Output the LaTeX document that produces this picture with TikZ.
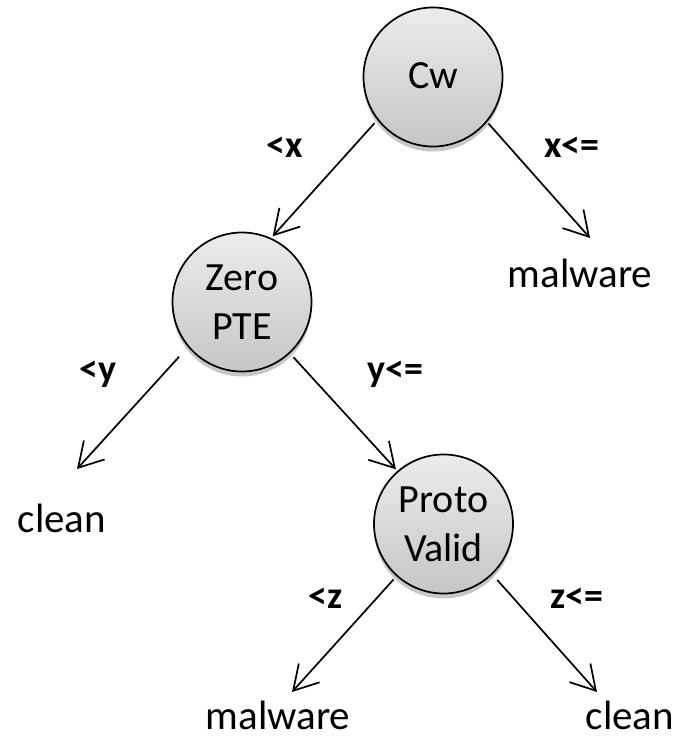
\documentclass[tikz,border=0pt]{standalone}
\usepackage{fontspec}
\setmainfont{Carlito}
\usetikzlibrary{arrows.meta,shadows}
\begin{document}
\begin{tikzpicture}[x=1pt,y=-1pt,
  test/.style={circle, draw=black, line width=1.7pt, minimum size=139pt, inner sep=0pt, outer sep=3pt,
    top color=gray!15, bottom color=gray!45, align=center,
    drop shadow={shadow xshift=0pt, shadow yshift=-5pt, fill=black, opacity=0.22},
    font=\fontsize{40}{49}\selectfont},
  leaf/.style={inner sep=0pt, anchor=base, font=\fontsize{41}{49}\selectfont},
  cond/.style={inner sep=0pt, anchor=base, font=\fontsize{38}{46}\selectfont\bfseries},
  arr/.style={line width=1.7pt, -{Straight Barb[length=24pt, width=28pt, line width=1.7pt]}}]
\useasboundingbox (0,0) rectangle (681,739);

\node[test] (cw) at (433,77) {\raisebox{3pt}{Cw}};
\node[test] (zero) at (242,302) {\fontsize{40}{50}\selectfont Zero\\PTE};
\node[test] (proto) at (443.5,524) {\fontsize{40}{41}\selectfont Proto\\Valid};

\node[leaf] (mal1) at (580,287) {malware};
\node[leaf] (cl1) at (62,532) {clean};
\node[leaf] (mal2) at (278,729) {malware};
\node[leaf] (cl2) at (630,729) {clean};

\coordinate (t2) at (590,238);
\coordinate (t3) at (77,469);
\coordinate (t5) at (292,692);
\coordinate (t6) at (597,692);

\draw[arr, shorten <=2pt] (cw.218.5) -- (zero.65);
\draw[arr] (cw.320.5) -- (t2);
\draw[arr, shorten <=11pt] (zero.220.7) -- (t3);
\draw[arr, shorten <=3pt] (zero.-47.2) -- (proto.131.9);
\draw[arr, shorten <=2pt] (proto.228.5) -- (t5);
\draw[arr, shorten <=5pt] (proto.-46.3) -- (t6);

\node[cond] (lx) at (285,157) {<x};
\node[cond] (rx) at (572,157) {x<=};
\node[cond] (ly) at (98,381) {<y};
\node[cond] (ry) at (395,381) {y<=};
\node[cond] (lz) at (326,608) {<z};
\node[cond] (rz) at (577,608) {z<=};
\end{tikzpicture}
\end{document}
